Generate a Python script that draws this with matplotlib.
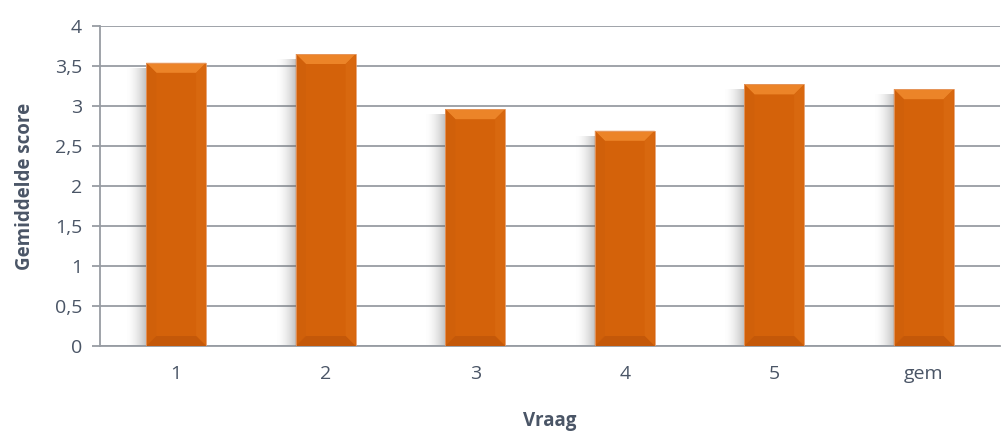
import numpy as np
import matplotlib.pyplot as plt
from matplotlib.patches import Polygon, Rectangle

plt.rcParams['font.family'] = ['Open Sans', 'DejaVu Sans']

vragen = ["1", "2", "3", "4", "5", "gem"]
scores = [3.54, 3.65, 2.96, 2.69, 3.27, 3.21]
yticks = [0, 0.5, 1, 1.5, 2, 2.5, 3, 3.5, 4]
ytick_labels = ["0", "0,5", "1", "1,5", "2", "2,5", "3", "3,5", "4"]

TXT = "#4a5566"
GRID = "#979ca3"
FACE = "#d4620a"
TOP = "#ec8428"
RIGHT = "#d8680f"
LEFT = "#d0600a"
BOTTOM = "#c45809"

fig = plt.figure(figsize=(10.01, 4.32), dpi=100)
ax = fig.add_axes([100 / 1001, 1 - 346 / 432, 900 / 1001, 320 / 432])

x = np.arange(len(vragen))
width = 0.4
ax.set_xlim(-0.51, len(vragen) - 0.49)
ax.set_ylim(0, 4)
ax.set_yticks(yticks)
ax.set_yticklabels(ytick_labels)
ax.set_xticks(x)
ax.set_xticklabels(vragen)

ax.yaxis.grid(True, color=GRID, lw=1.3)
ax.set_axisbelow(True)
for s in ("top", "right"):
    ax.spines[s].set_visible(False)
for s in ("left", "bottom"):
    ax.spines[s].set_color(GRID)
    ax.spines[s].set_linewidth(1.3)
ax.tick_params(axis="y", colors=GRID, length=6, width=1.3, labelcolor=TXT,
               labelsize=14, pad=7)
ax.tick_params(axis="x", length=0, labelcolor=TXT, labelsize=14, pad=14)

ax.set_ylabel("Gemiddelde score", fontweight="bold", color=TXT, fontsize=13.5, labelpad=14)
ax.set_xlabel("Vraag", fontweight="bold", color=TXT, fontsize=13.5, labelpad=20)

# pixel -> data scale for bevel and shadow sizes
px_x = (len(vragen) + 0.02) / 900.0
px_y = 4 / 320.0
bev_x, bev_y = 10 * px_x, 10 * px_y

bars = ax.bar(x, scores, width=width, color=FACE, zorder=3)

for b in bars:
    x0, x1 = b.get_x(), b.get_x() + b.get_width()
    y0, y1 = 0, b.get_height()
    # soft shadow to the left of each bar
    n = 20
    for i in range(n):
        a = 0.38 * (1 - i / n) ** 1.8
        ax.add_patch(Rectangle((x0 - (i + 1) * px_x, y0), px_x, y1 - y0 - 5 * px_y,
                               facecolor="#666666", edgecolor="none", alpha=a, zorder=2))
    ix0, ix1 = x0 + bev_x, x1 - bev_x
    iy0, iy1 = y0 + bev_y, y1 - bev_y
    ax.add_patch(Polygon([(x0, y1), (x1, y1), (ix1, iy1), (ix0, iy1)],
                         facecolor=TOP, edgecolor="none", zorder=4))
    ax.add_patch(Polygon([(x1, y1), (x1, y0), (ix1, iy0), (ix1, iy1)],
                         facecolor=RIGHT, edgecolor="none", zorder=4))
    ax.add_patch(Polygon([(x0, y1), (x0, y0), (ix0, iy0), (ix0, iy1)],
                         facecolor=LEFT, edgecolor="none", zorder=4))
    ax.add_patch(Polygon([(x0, y0), (x1, y0), (ix1, iy0), (ix0, iy0)],
                         facecolor=BOTTOM, edgecolor="none", zorder=4))
    ax.add_patch(Rectangle((x0, y0), x1 - x0, y1 - y0, facecolor="none",
                           edgecolor="#e59a66", lw=0.6, zorder=5))

fig.savefig("out.png", dpi=100)
